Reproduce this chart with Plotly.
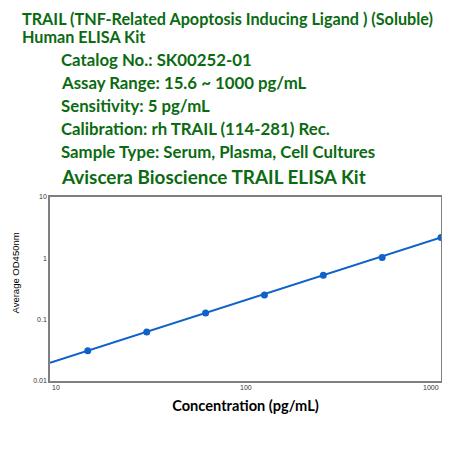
import math
import plotly.graph_objects as go

font_family = "Lato, 'Open Sans', sans-serif"
green = "#0b6b12"
blue = "#0f62c9"

# standard curve points
conc = [15.6, 31.25, 62.5, 125, 250, 500, 1000]
od = [0.031, 0.063, 0.128, 0.252, 0.529, 1.03, 2.18]
# fitted line ends (log-log straight line)
fit_x = [10, 1000]
fit_y = [0.0198, 2.18]

x_ticks = [10, 100, 1000]
x_ticktext = ["10", "100", "1000"]
y_ticks = [0.01, 0.1, 1, 10]
y_ticktext = ["0.01", "0.1", "1", "10"]

title_lines = ["TRAIL (TNF-Related Apoptosis Inducing Ligand ) (Soluble)", "Human ELISA Kit"]
info_lines = [
    "Catalog No.: SK00252-01",
    "Assay Range: 15.6 ~ 1000 pg/mL",
    "Sensitivity: 5 pg/mL",
    "Calibration: rh TRAIL (114-281) Rec.",
    "Sample Type: Serum, Plasma, Cell Cultures",
]
kit_name = "Aviscera Bioscience TRAIL ELISA Kit"

fig = go.Figure()
fig.add_trace(go.Scatter(x=fit_x, y=fit_y, mode="lines",
                         line=dict(color=blue, width=2), hoverinfo="skip"))
fig.add_trace(go.Scatter(x=conc, y=od, mode="markers",
                         marker=dict(color=blue, size=7)))

ann = []
for i, t in enumerate(title_lines):
    ann.append(dict(text="<b>%s</b>" % t, x=20, y=18 + i * 18, size=16.2))
for i, t in enumerate(info_lines):
    ann.append(dict(text="<b>%s</b>" % t, x=59, y=59 + i * 23, size=16.8))
ann.append(dict(text="<b>%s</b>" % kit_name, x=59, y=176, size=18.9))
for a in ann:
    fig.add_annotation(text=a["text"], xref="paper", yref="paper",
                       x=(a["x"] - 50) / 391, y=(381 - a["y"]) / 184,
                       xanchor="left", yanchor="middle", showarrow=False,
                       font=dict(size=a["size"], color=green, family=font_family))

# x tick labels: end labels nudged inside like the original
anchors = ["left", "center", "right"]
for v, t, anc in zip(x_ticks, x_ticktext, anchors):
    fig.add_annotation(text=t, x=math.log10(v), xref="x", y=0, yref="paper",
                       xanchor=anc, yanchor="top", yshift=-1, showarrow=False,
                       font=dict(size=7, color="#333", family="Arial, sans-serif"))

# y axis title sits a bit above centre
fig.add_annotation(text="Average OD450nm", textangle=-90, xref="paper", yref="paper",
                   x=(15 - 50) / 391, y=(381 - 273.5) / 184, xanchor="center", yanchor="middle",
                   showarrow=False, font=dict(size=9.5, color="black", family="Liberation Sans Narrow, Arial, sans-serif"))

# page body adds 8px, so the figure is 442 and shifted
fig.update_layout(
    width=442, height=442,
    margin=dict(l=42, r=9, t=189, b=69),
    paper_bgcolor="white", plot_bgcolor="white",
    showlegend=False,
    font=dict(family="Arial, sans-serif", color="#333"),
)
fig.update_xaxes(type="log", range=[1, 3], tickvals=x_ticks, showticklabels=False,
                 showgrid=False, zeroline=False, showline=True, mirror=True, automargin=False,
                 linecolor="#7f7f7f", linewidth=1.5, ticks="",
                 title=dict(text="<b>Concentration (pg/mL)</b>", font=dict(size=14.6, color="black", family=font_family), standoff=19))
fig.update_yaxes(type="log", range=[-2, 1], tickvals=y_ticks, ticktext=y_ticktext,
                 showgrid=False, zeroline=False, showline=True, mirror=True, automargin=False,
                 linecolor="#7f7f7f", linewidth=1.5, ticks="", tickfont=dict(size=7))

fig.write_html("out.html")
